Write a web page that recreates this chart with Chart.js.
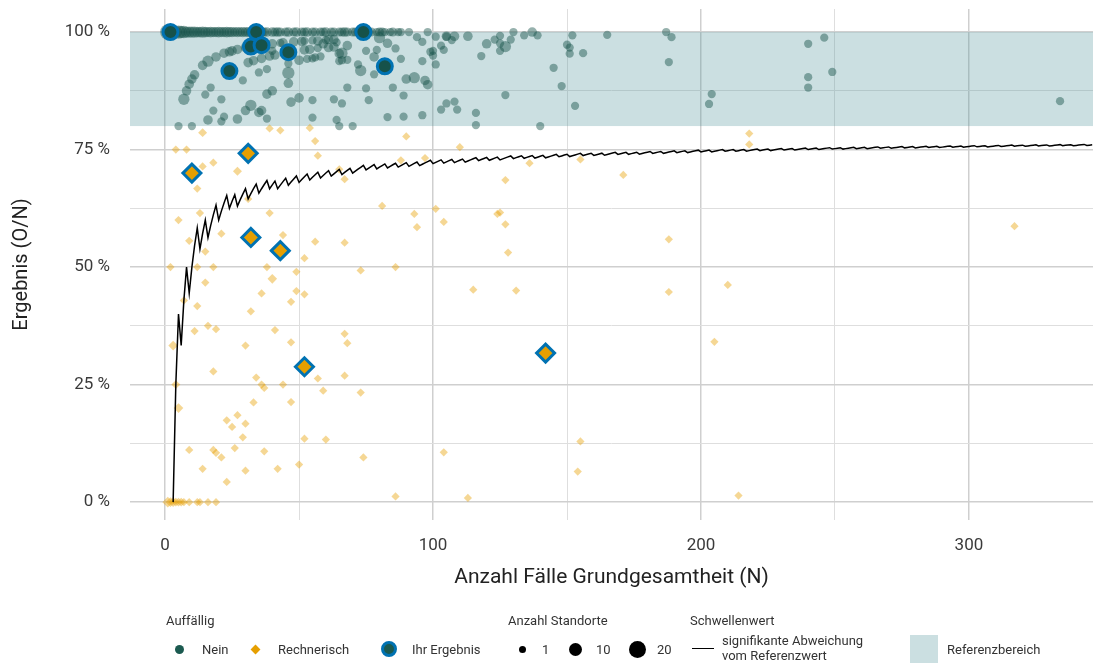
<!DOCTYPE html>
<html lang="de">
<head>
<meta charset="utf-8">
<title>Ergebnis (O/N)</title>
<script src="https://cdn.jsdelivr.net/npm/chart.js@4.4.1/dist/chart.umd.min.js"></script>
<style>
  html, body { margin: 0; padding: 0; background: #fff; }
  #wrap { position: relative; width: 1093px; height: 664px; font-family: Roboto, "DejaVu Sans", sans-serif; color: #333; }
  #chart { position: absolute; left: 0; top: 0; }
  .lg { position: absolute; font-size: 13px; line-height: 15px; white-space: nowrap; }
  .sym { position: absolute; box-sizing: border-box; }
</style>
</head>
<body>
<div id="wrap">
  <canvas id="chart" width="1093" height="664"></canvas>

  <div class="lg" style="left:166px;top:613px">Auffällig</div>
  <div class="sym" style="left:174.5px;top:644.5px;width:9px;height:9px;border-radius:50%;background:#1b5a50"></div>
  <div class="lg" style="left:202px;top:641.5px">Nein</div>
  <div class="sym" style="left:251.5px;top:645.5px;width:7px;height:7px;transform:rotate(45deg);background:#e69f00"></div>
  <div class="lg" style="left:278px;top:641.5px">Rechnerisch</div>
  <div class="sym" style="left:381px;top:641px;width:16px;height:16px;border-radius:50%;border:3px solid #0072b2;background:#1b5a50"></div>
  <div class="lg" style="left:412px;top:641.5px">Ihr Ergebnis</div>

  <div class="lg" style="left:508px;top:613px">Anzahl Standorte</div>
  <div class="sym" style="left:518.5px;top:645.5px;width:7px;height:7px;border-radius:50%;background:#000"></div>
  <div class="lg" style="left:542px;top:641.5px">1</div>
  <div class="sym" style="left:568.5px;top:642.5px;width:13px;height:13px;border-radius:50%;background:#000"></div>
  <div class="lg" style="left:596px;top:641.5px">10</div>
  <div class="sym" style="left:628.5px;top:640.5px;width:17px;height:17px;border-radius:50%;background:#000"></div>
  <div class="lg" style="left:657px;top:641.5px">20</div>

  <div class="lg" style="left:690px;top:613px">Schwellenwert</div>
  <div class="sym" style="left:692px;top:647.5px;width:22px;height:1.6px;background:#000"></div>
  <div class="lg" style="left:722px;top:633px">signifikante Abweichung<br>vom Referenzwert</div>

  <div class="sym" style="left:910px;top:635px;width:28px;height:28px;background:#cbdfe1"></div>
  <div class="lg" style="left:947px;top:641.5px">Referenzbereich</div>
</div>

<script>
// ---- data ----
const xTickValues = [0, 50, 100, 150, 200, 250, 300];
const yTickValues = [0, 12.5, 25, 37.5, 50, 62.5, 75, 87.5, 100];
const refRange = [80, 100];

// Nein, 100 % row
const neinTopN = [1, 3, 4, 5, 6, 7, 8, 9, 10, 11, 12, 13, 14, 15, 16, 17, 18, 19, 20, 21,
  22, 23, 24, 25, 26, 27, 28, 29, 30, 31, 32, 33, 35, 36, 37, 38, 40, 41, 42, 43,
  45, 46, 48, 49, 51, 52, 53, 55, 56, 58, 59, 60, 62, 63, 65, 66, 67, 68, 70, 71,
  72, 76, 77, 79, 80, 81, 82, 84, 85, 87, 88, 91, 98, 130, 137, 187];
const neinTopSites = [15, 8, 8, 10, 8, 8, 6, 6, 6, 6, 5, 5, 6, 5, 4, 5, 4, 4, 5, 4,
  4, 5, 4, 4, 3, 4, 3, 4, 3, 4, 3, 3, 3, 4, 2, 3, 3, 2, 3, 2,
  2, 3, 2, 3, 2, 2, 3, 2, 2, 2, 2, 3, 2, 2, 2, 2, 3, 2, 2, 2,
  2, 2, 2, 1, 2, 2, 1, 1, 2, 1, 1, 1, 1, 1, 3, 1];

// Nein, below 100 %
const neinN = [16, 14, 11, 10, 9, 7, 8, 5, 10, 15, 17, 21, 16, 18, 21, 19, 22, 24, 27, 30,
  29, 27, 30, 32, 35, 36, 38, 38, 40, 31, 33, 35, 38, 41, 39, 36, 43, 46, 46, 47,
  50, 50, 52, 54, 55, 55, 55, 53, 56, 58, 61, 63, 63, 65, 66, 68, 65, 68, 63, 66,
  64, 65, 70, 68, 72, 73, 75, 76, 75, 79, 78, 80, 83, 86, 85, 83, 88, 89, 89, 90,
  93, 96, 94, 96, 97, 98, 96, 100, 103, 103, 101, 105, 99, 100, 101, 104, 105, 78, 66, 55,
  57, 57, 60, 59, 61, 64, 52, 48, 51, 25, 33, 37, 40, 44, 46, 40, 22,
  105, 108, 107, 113, 118, 120, 123, 125, 125, 125, 127, 129, 134, 139, 145, 148, 150, 152, 151, 151,
  156, 165, 189, 188, 204, 203, 153, 140, 127, 116, 116, 108, 109,
  240, 246, 249, 240, 240, 334];
const neinPct = [93.8, 92.9, 90.9, 90.0, 88.9, 85.7, 87.5, 80.0, 80.0, 86.7, 88.2, 85.7, 81.3, 83.3, 81.0, 94.7, 95.5, 95.8, 96.3, 96.7,
  89.7, 81.5, 83.3, 84.4, 82.9, 83.3, 81.6, 86.8, 87.5, 93.5, 93.9, 91.4, 92.1, 95.1, 94.9, 94.4, 97.7, 91.3, 89.1, 85.1,
  86.0, 94.0, 96.2, 96.3, 98.2, 85.5, 81.8, 94.3, 94.6, 94.8, 98.4, 98.4, 96.8, 95.4, 95.5, 97.1, 93.8, 94.1, 85.7, 84.8,
  81.3, 80.0, 80.0, 88.2, 93.1, 91.8, 88.0, 85.5, 96.0, 96.2, 91.0, 98.8, 97.6, 96.5, 88.2, 81.9, 94.3, 82.0, 86.5, 90.0,
  90.3, 93.8, 98.9, 97.9, 89.7, 88.8, 82.3, 96.0, 83.5, 97.1, 99.0, 99.0, 95.8, 95.0, 93.1, 96.2, 84.8, 94.7, 94.0, 94.4,
  96.6, 98.1, 98.3, 97.5, 96.7, 97.8, 98.1, 97.9, 98.0, 96.0, 97.0, 97.3, 97.5, 97.7, 93.3, 96.0, 82.0,
  99.1, 99.1, 98.3, 99.1, 94.9, 97.5, 98.4, 99.2, 97.6, 96.0, 96.9, 98.4, 99.3, 99.3, 92.4, 88.5, 97.3, 99.3, 96.7, 95.4,
  95.5, 99.4, 98.9, 93.6, 86.8, 84.7, 84.3, 80.0, 86.6, 82.8, 80.2, 85.2, 83.5,
  97.5, 98.8, 91.5, 90.4, 88.2, 85.3];
const neinSites = [6, 3, 3, 3, 3, 6, 3, 1, 1, 1, 1, 1, 3, 1, 1, 3, 3, 3, 3, 3,
  1, 3, 3, 6, 3, 3, 1, 3, 3, 3, 3, 1, 1, 3, 3, 3, 1, 8, 3, 3,
  3, 3, 3, 3, 1, 1, 1, 1, 1, 1, 3, 3, 3, 3, 6, 3, 1, 1, 1, 1,
  1, 1, 1, 1, 1, 6, 1, 1, 1, 1, 1, 6, 3, 1, 1, 1, 1, 1, 1, 3,
  6, 1, 1, 1, 3, 3, 1, 1, 1, 1, 1, 1, 1, 1, 1, 1, 1, 3, 1, 1,
  1, 3, 1, 3, 3, 1, 1, 3, 3, 3, 3, 3, 3, 3, 1, 1, 1,
  3, 3, 1, 3, 1, 3, 1, 1, 1, 1, 6, 1, 1, 1, 1, 1, 1, 1, 1, 1,
  1, 1, 1, 1, 1, 1, 1, 1, 1, 1, 1, 1, 1,
  1, 1, 1, 1, 1, 1];

// Rechnerisch
const rechN = [1, 2, 3, 4, 5, 6, 7, 9, 12, 13, 16, 19,
  14, 39, 43, 54, 90, 56, 57, 4, 8, 18, 14, 27, 12, 31, 67, 65, 88, 97,
  5, 13, 39, 81, 93, 94, 101, 104, 9, 21, 15, 44, 56, 67, 52, 2, 12, 18, 38, 40,
  15, 49, 73, 86, 36, 49, 52, 47, 7, 12, 32, 11, 16, 19, 41, 67, 68, 3, 30, 47,
  18, 34, 36, 37, 44, 57, 67, 59, 73, 47, 33, 4, 5, 23, 25, 27, 30, 29, 52, 60,
  9, 18, 19, 21, 26, 37, 14, 30, 42, 50, 74, 23, 86, 104,
  110, 136, 155, 127, 171, 218, 218, 124, 125, 127, 128, 188, 317, 115, 131, 188, 210, 205, 113, 155, 154, 214];
const rechPct = [0, 0, 0, 0, 0, 0, 0, 0, 0, 0, 0, 0,
  78.6, 79.5, 79.1, 79.6, 77.8, 76.8, 73.7, 75.0, 75.0, 72.2, 71.4, 70.4, 66.7, 64.5, 68.7, 70.8, 72.7, 73.2,
  60.0, 61.5, 61.5, 63.0, 61.3, 58.5, 62.4, 59.6, 55.6, 57.1, 53.3, 56.8, 55.4, 55.2, 51.9, 50.0, 50.0, 50.0, 50.0, 47.5,
  46.7, 49.0, 49.3, 50.0, 44.4, 44.9, 44.2, 42.6, 42.9, 41.7, 40.6, 36.4, 37.5, 36.8, 36.6, 35.8, 33.8, 33.3, 33.3, 34.0,
  27.8, 26.5, 25.0, 24.3, 25.0, 26.3, 26.9, 23.7, 23.3, 21.3, 21.2, 25.0, 20.0, 17.4, 16.0, 18.5, 16.7, 13.8, 13.5, 13.3,
  11.1, 11.1, 10.5, 9.5, 11.5, 10.8, 7.1, 6.7, 7.1, 8.0, 9.5, 4.3, 1.2, 10.6,
  75.5, 72.1, 72.9, 68.5, 69.6, 78.4, 76.1, 61.3, 61.6, 59.1, 53.1, 55.9, 58.7, 45.2, 45.0, 44.7, 46.2, 34.1, 0.9, 12.9, 6.5, 1.4];
const rechSites = [5, 3, 3, 2, 2, 2, 1, 1, 1, 1, 1, 1,
  2, 1, 1, 1, 1, 1, 1, 1, 1, 1, 1, 2, 1, 1, 1, 1, 1, 1,
  1, 1, 1, 1, 1, 1, 1, 1, 1, 1, 1, 1, 1, 1, 1, 1, 1, 1, 1, 3,
  1, 1, 1, 1, 1, 1, 1, 1, 1, 1, 1, 1, 1, 1, 1, 1, 1, 3, 1, 1,
  1, 1, 1, 1, 1, 1, 1, 1, 1, 1, 1, 2, 3, 1, 1, 1, 1, 1, 1, 1,
  1, 1, 1, 1, 1, 1, 1, 1, 1, 1, 1, 1, 1, 1,
  1, 1, 1, 1, 1, 1, 1, 1, 1, 1, 1, 1, 1, 1, 1, 1, 1, 1, 1, 1, 1, 1];

// Ihr Ergebnis (highlighted)
const ihrNeinN = [2, 34, 32, 36, 24, 46, 74, 82];
const ihrNeinPct = [100, 100, 96.9, 97.2, 91.7, 95.7, 100, 92.7];
const ihrRechN = [10, 31, 32, 43, 52, 142];
const ihrRechPct = [70.0, 74.2, 56.3, 53.5, 28.8, 31.7];

// Schwellenwert: N at which the allowed number of deviations rises by one
const thresholdStepN = [1, 2, 3, 6, 9, 13, 16, 20, 24, 27, 31, 35, 39, 42, 46, 50, 54, 58, 62, 66,
  70, 75, 79, 83, 87, 91, 95, 100, 104, 108, 112, 117, 121, 125, 130, 134, 138, 142, 147, 151,
  156, 160, 164, 169, 173, 177, 182, 186, 191, 195, 200, 204, 209, 213, 217, 222, 226, 231, 235, 240,
  244, 249, 253, 258, 262, 267, 271, 276, 280, 285, 289, 294, 298, 303, 307, 312, 317, 321, 326, 330,
  335, 339, 344];
const thresholdMinN = 3;
const thresholdMaxN = 346;

// ---- styling ----
const teal = "#16524a";
const orange = "#e69f00";
const blue = "#0072b2";
const bandColor = "rgba(82, 148, 155, 0.3)";

function siteRadius(sites) {
  return Math.sqrt(14 + 3 * sites);
}

function toPoints(xs, ys) {
  return xs.map((x, i) => ({ x: x, y: ys[i] }));
}

const thresholdPoints = [];
for (let n = thresholdMinN; n <= thresholdMaxN; n++) {
  const k = thresholdStepN.filter(s => s <= n).length;
  thresholdPoints.push({ x: n, y: 100 * (n - k) / n });
}

const neinPoints = toPoints(neinTopN, neinTopN.map(() => 100)).concat(toPoints(neinN, neinPct));
const neinRadius = neinTopSites.concat(neinSites).map(siteRadius);

// reference range band, drawn behind the points but over the grid
const bandPlugin = {
  id: "referenzbereich",
  beforeDatasetsDraw(chart) {
    const { ctx, chartArea, scales } = chart;
    const top = scales.y.getPixelForValue(refRange[1]);
    const bottom = scales.y.getPixelForValue(refRange[0]);
    ctx.save();
    ctx.fillStyle = bandColor;
    ctx.fillRect(chartArea.left, top, chartArea.right - chartArea.left, bottom - top);
    ctx.restore();
  },
};

const gridColor = (major) => (c) => (c.tick && c.tick.value % major === 0 ? "#cfcfcf" : "#dedede");
const gridWidth = (major) => (c) => (c.tick && c.tick.value % major === 0 ? 1.5 : 1);

new Chart(document.getElementById("chart"), {
  type: "scatter",
  data: {
    datasets: [
      {
        label: "Ihr Ergebnis (Nein)",
        data: toPoints(ihrNeinN, ihrNeinPct),
        pointStyle: "circle",
        pointRadius: 7.5,
        backgroundColor: teal,
        borderColor: blue,
        borderWidth: 3,
        order: 0,
      },
      {
        label: "Ihr Ergebnis (Rechnerisch)",
        data: toPoints(ihrRechN, ihrRechPct),
        pointStyle: "rectRot",
        pointRadius: 9,
        backgroundColor: orange,
        borderColor: blue,
        borderWidth: 3,
        order: 1,
      },
      {
        label: "signifikante Abweichung vom Referenzwert",
        data: thresholdPoints,
        showLine: true,
        borderColor: "#000",
        borderWidth: 1.5,
        pointRadius: 0,
        tension: 0,
        order: 2,
      },
      {
        label: "Rechnerisch",
        data: toPoints(rechN, rechPct),
        pointStyle: "rectRot",
        pointRadius: rechSites.map(siteRadius),
        backgroundColor: "rgba(230, 159, 0, 0.42)",
        borderWidth: 0,
        order: 3,
      },
      {
        label: "Nein",
        data: neinPoints,
        pointStyle: "circle",
        pointRadius: neinRadius,
        backgroundColor: "rgba(22, 82, 74, 0.45)",
        borderWidth: 0,
        order: 4,
      },
    ],
  },
  options: {
    responsive: false,
    animation: false,
    devicePixelRatio: 1,
    layout: { autoPadding: false, padding: { top: 9, right: 0, bottom: 64, left: 0 } },
    plugins: {
      legend: { display: false },
      tooltip: { enabled: false },
    },
    scales: {
      x: {
        type: "linear",
        min: -13.1,
        max: 346.3,
        afterBuildTicks: (axis) => { axis.ticks = xTickValues.map(v => ({ value: v })); },
        afterFit: (axis) => {
          axis.height = 80;
          // no extra room for overhanging tick labels: plot runs to the canvas edge
          axis.paddingLeft = 0;
          axis.paddingRight = 0;
        },
        border: { display: false },
        grid: { drawTicks: false, color: gridColor(100), lineWidth: gridWidth(100) },
        ticks: {
          padding: 16,
          color: "#3a3a3a",
          font: { family: "Roboto", size: 17 },
          callback: (v) => (v % 100 === 0 ? String(v) : ""),
        },
        title: {
          display: true,
          text: "Anzahl Fälle Grundgesamtheit (N)",
          color: "#222",
          font: { family: "Roboto", size: 21 },
          padding: { top: 0, bottom: 10 },
        },
      },
      y: {
        type: "linear",
        min: -3.8,
        max: 104.9,
        afterBuildTicks: (axis) => { axis.ticks = yTickValues.map(v => ({ value: v })); },
        afterFit: (axis) => {
          axis.width = 130;
          axis.paddingTop = 0;
          axis.paddingBottom = 0;
        },
        border: { display: false },
        grid: { drawTicks: false, color: gridColor(25), lineWidth: gridWidth(25) },
        ticks: {
          padding: 20,
          color: "#3a3a3a",
          font: { family: "Roboto", size: 17 },
          callback: (v) => (v % 25 === 0 ? v + " %" : ""),
        },
        title: {
          display: true,
          text: "Ergebnis (O/N)",
          color: "#222",
          font: { family: "Roboto", size: 20 },
          padding: { top: 10, bottom: 0 },
        },
      },
    },
  },
  plugins: [bandPlugin],
});
</script>
</body>
</html>
